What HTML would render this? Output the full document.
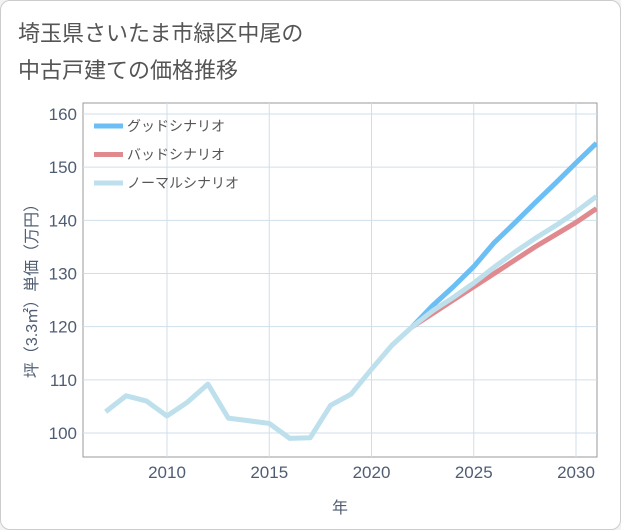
<!DOCTYPE html>
<html><head><meta charset="utf-8"><style>
body{margin:0;background:#fff;}
.wrap{position:relative;width:621px;height:530px;background:#f3f3f3;font-family:"Liberation Sans","Noto Sans CJK JP",sans-serif;}
.card{position:absolute;left:0;top:0;width:619px;height:528px;border:1px solid #ccc;border-radius:10px;background:#fff;}
</style></head><body>
<div class="wrap">
<div class="card"></div>
<svg id="c" width="621" height="530" style="position:absolute;left:0;top:0">
<text x="18" y="41" font-size="22" fill="#555" font-family="Liberation Sans, Noto Sans CJK JP, sans-serif">埼玉県さいたま市緑区中尾の</text>
<text x="18" y="78" font-size="22" fill="#555" font-family="Liberation Sans, Noto Sans CJK JP, sans-serif">中古戸建ての価格推移</text>
</svg>
</div>
<script>
const years=[2007,2008,2009,2010,2011,2012,2013,2014,2015,2016,2017,2018,2019,2020,2021,2022];
const history=[104,107,106,103.2,105.8,109.2,102.8,102.3,101.8,99,99.1,105.2,107.3,112,116.5,120];
const futureYears=[2022,2023,2024,2025,2026,2027,2028,2029,2030,2031];
const good=[120,124,127.5,131.3,135.8,139.5,143.3,147,150.8,154.5];
const bad=[120,122.5,125,127.5,130,132.5,135,137.3,139.6,142.2];
const normal=[120,123,125.5,128.2,131.2,134,136.6,139,141.6,144.5];
const yTicks=[100,110,120,130,140,150,160];
const xTicks=[2010,2015,2020,2025,2030];
const L=83,R=597,T=103,B=457;
const X=v=>167+(v-2010)*20.45;
const Y=v=>433-(v-100)*5.317;
const svg=document.getElementById('c');const NS='http://www.w3.org/2000/svg';
function mk(t,a,p){const e=document.createElementNS(NS,t);for(const k in a)e.setAttribute(k,a[k]);(p||svg).appendChild(e);return e;}
const plot=mk('rect',{x:L,y:T,width:R-L,height:B-T,fill:'#fff',stroke:'#999','stroke-width':1});


const clip=mk('clipPath',{id:'cp'});mk('rect',{x:L,y:T,width:R-L,height:B-T},clip);
yTicks.forEach(v=>{const g=mk('line',{x1:L,x2:R,y1:Y(v),y2:Y(v),stroke:'#cfdfea','stroke-width':1});


const t=mk('text',{x:L-6,y:Y(v)+6,'text-anchor':'end','font-size':17,fill:'#4f5d73'});t.textContent=v;

});
xTicks.forEach(v=>{const g=mk('line',{x1:X(v),x2:X(v),y1:T,y2:B,stroke:'#cfdfea','stroke-width':1});


const t=mk('text',{x:X(v),y:B+21,'text-anchor':'middle','font-size':17,fill:'#4f5d73'});t.textContent=v;

});
function line(xs,ys,col,name){const d=xs.map((x,i)=>(i?'L':'M')+X(x)+','+Y(ys[i])).join('');
const p=mk('path',{d:d,fill:'none',stroke:col,'stroke-width':5,'stroke-linejoin':'round','clip-path':'url(#cp)'});

}
line(futureYears,bad,'#e08a90','bad-scenario-line');
line(futureYears,good,'#6bbff5','good-scenario-line');
line(futureYears,normal,'#bde0ec','normal-scenario-line');
line(years,history,'#bde0ec','history-line');
const leg=[['グッドシナリオ','#6bbff5'],['バッドシナリオ','#e08a90'],['ノーマルシナリオ','#bde0ec']];
leg.forEach((e,i)=>{const y=126+i*28.5;
const l=mk('line',{x1:94,x2:123,y1:y,y2:y,stroke:e[1],'stroke-width':5});


const t=mk('text',{x:127,y:y+5,'font-size':14,fill:'#555'});t.textContent=e[0];

});
const xt=mk('text',{x:340,y:513,'text-anchor':'middle','font-size':16,fill:'#4f5d73'});xt.textContent='年';


const yt=mk('text',{x:0,y:0,'text-anchor':'middle','font-size':16,fill:'#4f5d73',transform:'translate(37,287) rotate(-90)'});yt.textContent='坪（3.3㎡）単価（万円）';


</script>
</body></html>
